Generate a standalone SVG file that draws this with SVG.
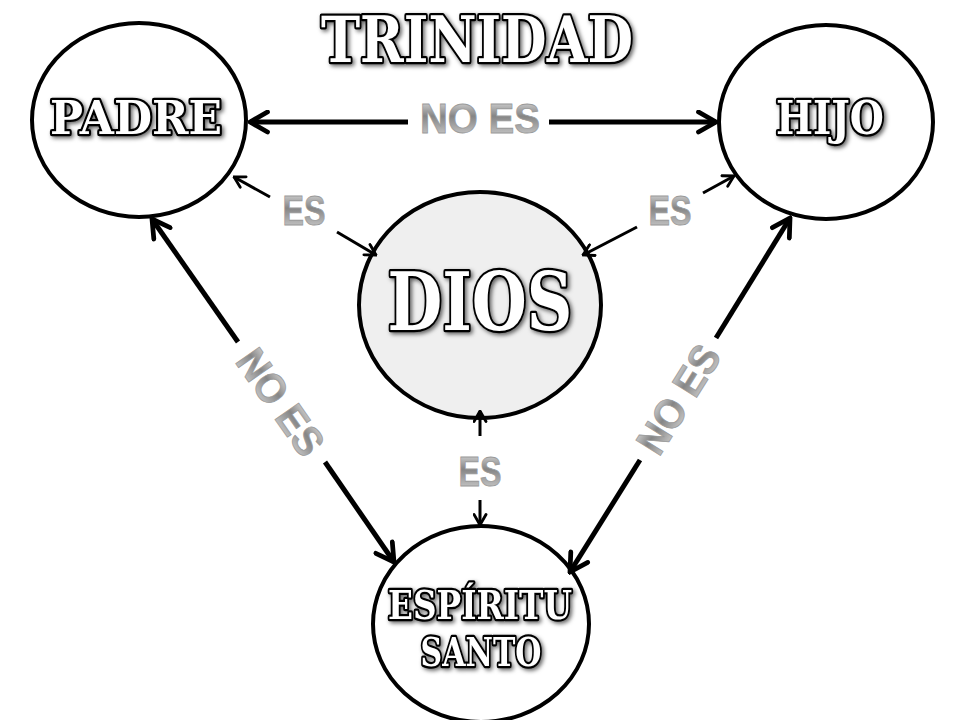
<svg xmlns="http://www.w3.org/2000/svg" width="960" height="720" viewBox="0 0 960 720">
  <defs>
    <linearGradient id="metal" x1="0" y1="0" x2="0" y2="1">
      <stop offset="0" stop-color="#f2f2f2"/>
      <stop offset="0.45" stop-color="#858585"/>
      <stop offset="0.6" stop-color="#9c9c9c"/>
      <stop offset="1" stop-color="#dcdcdc"/>
    </linearGradient>
    <filter id="shadow" x="-10%" y="-20%" width="130%" height="150%">
      <feDropShadow dx="2" dy="2" stdDeviation="2" flood-color="#000" flood-opacity="0.6"/>
    </filter>
    <marker id="arrow" viewBox="0 0 10 10" refX="9" refY="5" markerWidth="5" markerHeight="5" orient="auto-start-reverse" markerUnits="strokeWidth">
      <path d="M2,1 L9,5 L2,9" fill="none" stroke="#000" stroke-width="1.9" stroke-linecap="round" stroke-linejoin="miter"/>
    </marker>
  </defs>
  <style>
    .node { stroke: #000; stroke-width: 4; fill: #fff; }
    .god { fill: #efefef; }
    .fancy { font-family: "DejaVu Serif", "Liberation Serif", serif; font-weight: bold; fill: #fff; stroke: #000; stroke-width: 4.5; paint-order: stroke fill; stroke-linejoin: round; text-anchor: middle; filter: url(#shadow); }
    .lbl { font-family: "Liberation Sans", Arial, sans-serif; font-weight: bold; fill: url(#metal); stroke: #9a9a9a; stroke-width: 0.8; text-anchor: middle; }
    .big { stroke: #000; stroke-width: 5; fill: none; }
    .small { stroke: #000; stroke-width: 3; fill: none; }
  </style>

  <rect width="960" height="720" fill="#fff"/>

  <text id="title" class="fancy" x="477" y="62" font-size="64" textLength="312" lengthAdjust="spacingAndGlyphs">TRINIDAD</text>

  <g id="padre">
    <ellipse class="node" cx="139" cy="120" rx="107" ry="97"/>
    <text class="fancy" x="136" y="134" font-size="46" textLength="172" lengthAdjust="spacingAndGlyphs">PADRE</text>
  </g>

  <g id="hijo">
    <ellipse class="node" cx="826" cy="122" rx="107" ry="97"/>
    <text class="fancy" x="830" y="134" font-size="46" textLength="108" lengthAdjust="spacingAndGlyphs">HIJO</text>
  </g>

  <g id="dios">
    <ellipse class="node god" cx="480" cy="305" rx="121" ry="113"/>
    <text class="fancy" x="480" y="330" font-size="80" textLength="185" lengthAdjust="spacingAndGlyphs">DIOS</text>
  </g>

  <g id="espiritu-santo">
    <ellipse class="node" cx="481" cy="624" rx="108" ry="98"/>
    <text class="fancy" x="480" y="619" font-size="40" textLength="184" lengthAdjust="spacingAndGlyphs">ESPÍRITU</text>
    <text class="fancy" x="481" y="666" font-size="40" textLength="121" lengthAdjust="spacingAndGlyphs">SANTO</text>
  </g>

  <g id="connectors">
    <line class="big" x1="250" y1="122" x2="408" y2="122" marker-start="url(#arrow)"/>
    <line class="big" x1="549" y1="122" x2="716" y2="122" marker-end="url(#arrow)"/>
    <text class="lbl" x="480" y="133" font-size="42" textLength="120" lengthAdjust="spacingAndGlyphs">NO ES</text>

    <line class="big" x1="238" y1="342" x2="152" y2="219" marker-end="url(#arrow)"/>
    <line class="big" x1="325" y1="462" x2="394" y2="562" marker-end="url(#arrow)"/>
    <text class="lbl" transform="translate(281,402) rotate(55)" x="0" y="15" font-size="42" textLength="120" lengthAdjust="spacingAndGlyphs">NO ES</text>

    <line class="big" x1="716" y1="338" x2="790" y2="218" marker-end="url(#arrow)"/>
    <line class="big" x1="640" y1="460" x2="570" y2="572" marker-end="url(#arrow)"/>
    <text class="lbl" transform="translate(678,399) rotate(-58)" x="0" y="15" font-size="42" textLength="120" lengthAdjust="spacingAndGlyphs">NO ES</text>

    <line class="small" x1="270" y1="197" x2="234" y2="177" marker-end="url(#arrow)"/>
    <line class="small" x1="337" y1="232" x2="376" y2="255" marker-end="url(#arrow)"/>
    <text class="lbl" x="304" y="225" font-size="42" textLength="43" lengthAdjust="spacingAndGlyphs">ES</text>

    <line class="small" x1="703" y1="193" x2="734" y2="176" marker-end="url(#arrow)"/>
    <line class="small" x1="637" y1="227" x2="583" y2="255" marker-end="url(#arrow)"/>
    <text class="lbl" x="670" y="225" font-size="42" textLength="43" lengthAdjust="spacingAndGlyphs">ES</text>

    <line class="small" x1="480" y1="436" x2="480" y2="411" marker-end="url(#arrow)"/>
    <line class="small" x1="480" y1="500" x2="480" y2="525" marker-end="url(#arrow)"/>
    <text class="lbl" x="480" y="486" font-size="42" textLength="43" lengthAdjust="spacingAndGlyphs">ES</text>
  </g>
</svg>
